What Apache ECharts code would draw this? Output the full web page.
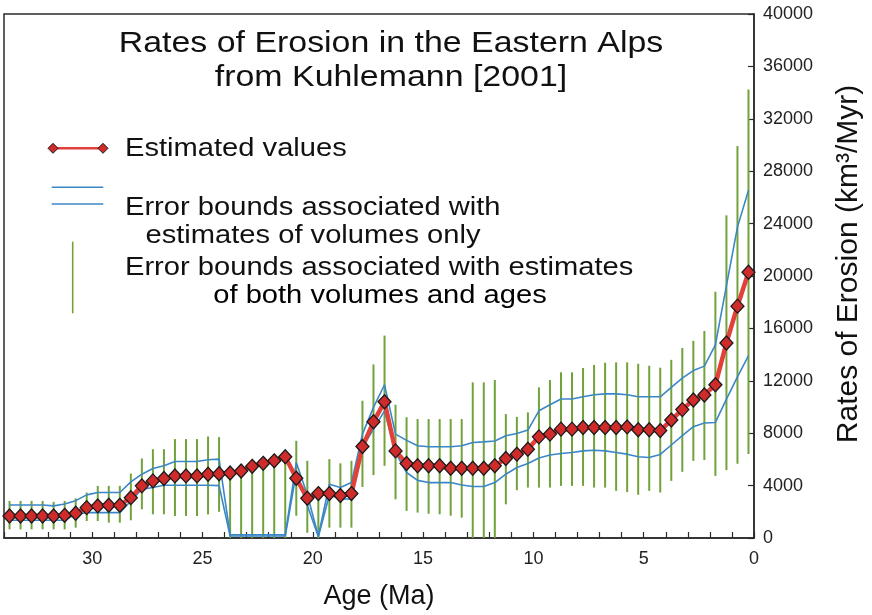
<!DOCTYPE html>
<html>
<head>
<meta charset="utf-8">
<title>Rates of Erosion in the Eastern Alps</title>
<script src="https://cdn.jsdelivr.net/npm/echarts@6/dist/echarts.min.js"></script>
<style>
  html, body { margin: 0; padding: 0; background: #fff; }
  #chart { width: 872px; height: 615px; }
</style>
</head>
<body>
<div id="chart"></div>
<script>
// ages (Ma) of each estimate
var ages = [33.75, 33.25, 32.75, 32.25, 31.75, 31.25, 30.75, 30.25, 29.75, 29.25,
  28.75, 28.25, 27.75, 27.25, 26.75, 26.25, 25.75, 25.25, 24.75, 24.25,
  23.75, 23.25, 22.75, 22.25, 21.75, 21.25, 20.75, 20.25, 19.75, 19.25,
  18.75, 18.25, 17.75, 17.25, 16.75, 16.25, 15.75, 15.25, 14.75, 14.25,
  13.75, 13.25, 12.75, 12.25, 11.75, 11.25, 10.75, 10.25, 9.75, 9.25,
  8.75, 8.25, 7.75, 7.25, 6.75, 6.25, 5.75, 5.25, 4.75, 4.25,
  3.75, 3.25, 2.75, 2.25, 1.75, 1.25, 0.75, 0.25]

// estimated erosion rates (km3/Myr)
var estimated = [1680, 1680, 1680, 1680, 1680, 1730, 1890, 2320, 2450, 2500,
  2500, 3080, 3980, 4360, 4540, 4740, 4740, 4740, 4870, 4900,
  4960, 5120, 5470, 5700, 5890, 6200, 4560, 3030, 3390, 3390,
  3240, 3390, 6980, 8870, 10400, 6650, 5690, 5510, 5510, 5510,
  5330, 5330, 5330, 5330, 5510, 6070, 6400, 6780, 7720, 7930,
  8310, 8310, 8440, 8440, 8440, 8440, 8480, 8260, 8260, 8200,
  9000, 9800, 10540, 10920, 11700, 14890, 17700, 20290]

// error bounds, volumes only (blue)
var volUpper = [2520, 2520, 2520, 2520, 2450, 2600, 2850, 3290, 3470, 3470,
  3470, 4280, 4870, 5300, 5510, 5840, 5840, 5840, 5970, 6020,
  250, 250, 250, 250, 250, 250, 5760, 3300, 150, 4100,
  3850, 4230, 7930, 9970, 11700, 7930, 7450, 7040, 6960, 6960,
  6960, 7040, 7290, 7340, 7400, 7800, 7980, 8240, 9710, 10170,
  10610, 10610, 10780, 10940, 11000, 11000, 10940, 10780, 10780, 10780,
  11500, 12200, 12780, 13120, 14750, 19270, 23730, 26540]
var volLower = [1350, 1350, 1350, 1350, 1350, 1350, 1810, 1940, 1940, 1940,
  1940, 2830, 3720, 3850, 4030, 4030, 4030, 4030, 4030, 4000,
  150, 150, 150, 150, 150, 150, 5000, 2500, 100, 3280,
  3000, 2960, 6910, 8310, 9710, 6520, 5000, 4400, 4230, 4230,
  4230, 4050, 3930, 3930, 4230, 4870, 5380, 5690, 6100, 6330,
  6450, 6530, 6650, 6700, 6650, 6530, 6400, 6200, 6140, 6380,
  7100, 7820, 8500, 8780, 8820, 10600, 12300, 13920]

// error bounds, volumes and ages (green)
var bothUpper = [2830, 2830, 2830, 2830, 2760, 2830, 3030, 3470, 3980, 3980,
  3980, 4920, 6070, 6780, 6780, 7550, 7550, 7550, 7750, 7700,
  5000, 5150, 5450, 5700, 5900, 6200, 7420, 5890, 3400, 6020,
  5700, 5890, 10480, 13250, 15450, 10170, 9220, 9080, 9080, 9080,
  9080, 9080, 11880, 11880, 12060, 9460, 9250, 9590, 11500, 12060,
  12650, 12650, 12980, 13210, 13380, 13410, 13410, 13300, 13150, 13000,
  13600, 14510, 15050, 15800, 18800, 24630, 29930, 34240]
var bothLower = [660, 660, 660, 660, 660, 660, 790, 1300, 1300, 1170,
  1170, 1350, 2190, 1810, 1810, 1680, 1680, 1680, 1800, 2000,
  0, 0, 0, 0, 0, 0, 1700, 400, 0, 790,
  790, 790, 3900, 4800, 5510, 2950, 2070, 1940, 1850, 1810,
  1700, 1550, 0, 0, 0, 2570, 3650, 3850, 3850, 3850,
  3980, 3980, 3980, 3850, 3850, 3600, 3500, 3300, 3600, 3470,
  4360, 5050, 5890, 5950, 4740, 5180, 5660, 6420]

var RED = '#e2403a'
var RED_DARK = '#cf2b2b'
var BLUE = '#3b87c6'
var GREEN = '#72a23c'
var FONT = '"Liberation Sans", Arial, Helvetica, sans-serif'

function pairs(ys) {
  return ages.map(function (a, i) { return [a, ys[i]] })
}

var chart = echarts.init(document.getElementById('chart'))

var option = {
  animation: false,
  backgroundColor: '#fff',
  grid: {
    left: 4, right: 113, top: 14, bottom: 77,
    show: true, borderColor: '#2a2a2a', borderWidth: 1.5
  },
  xAxis: {
    type: 'value',
    min: 0, max: 34, interval: 1,
    inverse: true,
    name: 'Age (Ma)',
    nameLocation: 'middle',
    nameGap: 45,
    nameTextStyle: { fontFamily: FONT, fontSize: 27, color: '#111' },
    axisLine: { lineStyle: { color: '#2a2a2a', width: 1.5 } },
    axisTick: { inside: true, length: 6, lineStyle: { color: '#2a2a2a', width: 1.2 } },
    axisLabel: {
      margin: 12, fontFamily: FONT, fontSize: 18, color: '#222',
      formatter: function (v) { return v % 5 === 0 ? String(v) : '' }
    },
    splitLine: { show: false }
  },
  yAxis: {
    type: 'value',
    position: 'right',
    min: 0, max: 40000, interval: 4000,
    name: 'Rates of Erosion (km³/Myr)',
    nameLocation: 'middle',
    nameGap: 80,
    nameTextStyle: { fontFamily: FONT, fontSize: 30, color: '#111', padding: [0, 0, 0, 24] },
    axisLine: { show: true, lineStyle: { color: '#2a2a2a', width: 1.5 } },
    axisTick: { show: true, inside: true, length: 6, lineStyle: { color: '#2a2a2a', width: 1.2 } },
    axisLabel: {
      margin: 9, fontFamily: FONT, fontSize: 18, color: '#222',
      formatter: function (v) { return String(v) }
    },
    splitLine: { show: false }
  },
  series: [
    {
      name: 'both',
      type: 'custom',
      z: 1,
      data: ages.map(function (a, i) { return [a, bothLower[i], bothUpper[i]] }),
      encode: { x: 0, y: [1, 2] },
      renderItem: function (params, api) {
        var p1 = api.coord([api.value(0), api.value(1)])
        var p2 = api.coord([api.value(0), api.value(2)])
        return {
          type: 'line',
          shape: { x1: p1[0], y1: p1[1], x2: p2[0], y2: p2[1] },
          style: { stroke: GREEN, lineWidth: 2 }
        }
      }
    },
    {
      name: 'upper',
      type: 'line',
      z: 2,
      data: pairs(volUpper),
      showSymbol: false,
      lineStyle: { color: BLUE, width: 1.6 }
    },
    {
      name: 'lower',
      type: 'line',
      z: 2,
      data: pairs(volLower),
      showSymbol: false,
      lineStyle: { color: BLUE, width: 1.6 }
    },
    {
      name: 'Estimated values',
      type: 'line',
      z: 3,
      data: pairs(estimated),
      symbol: 'diamond',
      symbolSize: [13, 14],
      lineStyle: { color: RED, width: 4.5 },
      itemStyle: { color: RED_DARK, borderColor: '#1a1a1a', borderWidth: 1.3 }
    }
  ],
  graphic: [
    // title
    {
      type: 'text', x: 391, y: 43.3, scaleX: 1.13, z: 10,
      style: { text: 'Rates of Erosion in the Eastern Alps', fontFamily: FONT, fontSize: 30, fill: '#111', align: 'center', verticalAlign: 'middle' }
    },
    {
      type: 'text', x: 391, y: 77.3, scaleX: 1.13, z: 10,
      style: { text: 'from Kuhlemann [2001]', fontFamily: FONT, fontSize: 30, fill: '#111', align: 'center', verticalAlign: 'middle' }
    },
    // legend glyphs
    { type: 'line', z: 10, shape: { x1: 53, y1: 148.3, x2: 103, y2: 148.3 }, style: { stroke: RED, lineWidth: 2.5 } },
    { type: 'polygon', z: 11, shape: { points: [[53, 143.3], [58, 148.3], [53, 153.3], [48, 148.3]] }, style: { fill: RED_DARK, stroke: '#1a1a1a', lineWidth: 1 } },
    { type: 'polygon', z: 11, shape: { points: [[103, 143.3], [108, 148.3], [103, 153.3], [98, 148.3]] }, style: { fill: RED_DARK, stroke: '#1a1a1a', lineWidth: 1 } },
    { type: 'line', z: 10, shape: { x1: 51.7, y1: 187.3, x2: 103.3, y2: 187.3 }, style: { stroke: BLUE, lineWidth: 1.6 } },
    { type: 'line', z: 10, shape: { x1: 51.7, y1: 204, x2: 103.3, y2: 204 }, style: { stroke: BLUE, lineWidth: 1.6 } },
    { type: 'line', z: 10, shape: { x1: 72.7, y1: 241.7, x2: 72.7, y2: 313.3 }, style: { stroke: GREEN, lineWidth: 1.6 } },
    // legend text
    {
      type: 'text', x: 125, y: 149.3, scaleX: 1.12, z: 10,
      style: { text: 'Estimated values', fontFamily: FONT, fontSize: 26, fill: '#111', align: 'left', verticalAlign: 'middle' }
    },
    {
      type: 'text', x: 125, y: 208.3, scaleX: 1.12, z: 10,
      style: { text: 'Error bounds associated with', fontFamily: FONT, fontSize: 26, fill: '#111', align: 'left', verticalAlign: 'middle' }
    },
    {
      type: 'text', x: 313, y: 236, scaleX: 1.12, z: 10,
      style: { text: 'estimates of volumes only', fontFamily: FONT, fontSize: 26, fill: '#111', align: 'center', verticalAlign: 'middle' }
    },
    {
      type: 'text', x: 125, y: 268.3, scaleX: 1.12, z: 10,
      style: { text: 'Error bounds associated with estimates', fontFamily: FONT, fontSize: 26, fill: '#111', align: 'left', verticalAlign: 'middle' }
    },
    {
      type: 'text', x: 380, y: 296, scaleX: 1.12, z: 10,
      style: {
        text: '{a|of both volumes}{b| and ages}',
        align: 'center', verticalAlign: 'middle',
        rich: {
          a: { fontFamily: FONT, fontSize: 26, color: '#111' },
          b: { fontFamily: FONT, fontSize: 26, color: '#555' }
        }
      }
    }
  ]
}

chart.setOption(option)
</script>
</body>
</html>
